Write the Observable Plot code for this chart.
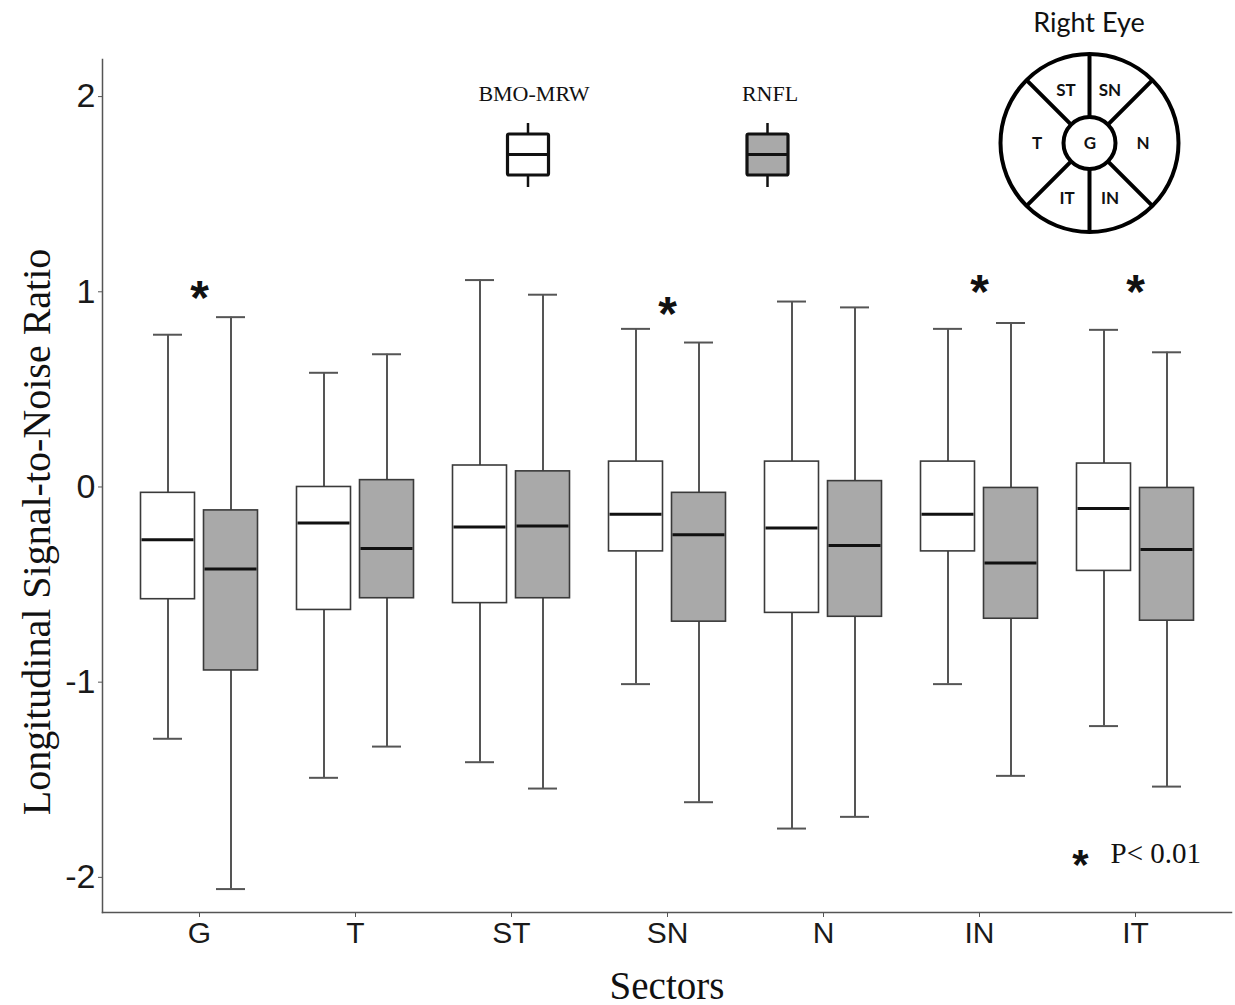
<!DOCTYPE html>
<html><head><meta charset="utf-8">
<script src="https://cdn.jsdelivr.net/npm/d3@7"></script>
<script src="https://cdn.jsdelivr.net/npm/@observablehq/plot@0.6"></script>
<style>
body{margin:0;background:#fff}
#wrap{position:relative;width:1235px;height:1005px}
#wrap svg.ov{position:absolute;left:0;top:0;pointer-events:none}
</style>
</head><body><div id="wrap"></div>
<script>
// ---------------- data ----------------
const sectors = ["G", "T", "ST", "SN", "N", "IN", "IT"];
const groups = ["BMO-MRW", "RNFL"];
const yTicks = [-2, -1, 0, 1, 2];

// BMO-MRW (white boxes)
const bmoUpper  = [0.78, 0.585, 1.06, 0.81, 0.95, 0.81, 0.805];
const bmoQ3     = [-0.03, 0.00, 0.11, 0.13, 0.13, 0.13, 0.12];
const bmoMedian = [-0.27, -0.185, -0.205, -0.14, -0.21, -0.14, -0.11];
const bmoQ1     = [-0.575, -0.63, -0.595, -0.33, -0.645, -0.33, -0.43];
const bmoLower  = [-1.29, -1.49, -1.41, -1.01, -1.75, -1.01, -1.225];

// RNFL (grey boxes)
const rnflUpper  = [0.87, 0.68, 0.985, 0.74, 0.92, 0.84, 0.69];
const rnflQ3     = [-0.12, 0.035, 0.08, -0.03, 0.03, -0.005, -0.005];
const rnflMedian = [-0.42, -0.315, -0.20, -0.245, -0.30, -0.39, -0.32];
const rnflQ1     = [-0.94, -0.57, -0.57, -0.69, -0.665, -0.675, -0.685];
const rnflLower  = [-2.06, -1.33, -1.545, -1.615, -1.69, -1.48, -1.535];

// significance markers (P < 0.01)
const sigSectors = ["G", "SN", "IN", "IT"];
const sigY       = [1.0, 0.92, 1.03, 1.03];

// ---------------- tables ----------------
const rows = [];
sectors.forEach((s, i) => {
  rows.push({sector: s, group: "BMO-MRW", hi: bmoUpper[i], q3: bmoQ3[i], med: bmoMedian[i], q1: bmoQ1[i], lo: bmoLower[i]});
  rows.push({sector: s, group: "RNFL", hi: rnflUpper[i], q3: rnflQ3[i], med: rnflMedian[i], q1: rnflQ1[i], lo: rnflLower[i]});
});
const stars = sigSectors.map((s, i) => ({sector: s, y: sigY[i]}));

// ---------------- styles ----------------
const fills = {"BMO-MRW": "#ffffff", "RNFL": "#a9a9a9"};
const geom = {
  "BMO-MRW": {boxL: 19.5, boxR: 82.5, capL: 32, capR: 95, dx: -31.5},
  "RNFL":    {boxL: 82.5, boxR: 19.5, capL: 95, capR: 32, dx: 31.5}
};
const whisk = "#555", boxStroke = "#3a3a3a";
const serif = "'Liberation Serif', 'Times New Roman', serif";

const groupMarks = groups.flatMap(g => {
  const d = rows.filter(r => r.group === g);
  const G = geom[g];
  return [
    Plot.ruleX(d, {x: "sector", y1: "lo", y2: "q1", dx: G.dx, stroke: whisk, strokeWidth: 2}),
    Plot.ruleX(d, {x: "sector", y1: "q3", y2: "hi", dx: G.dx, stroke: whisk, strokeWidth: 2}),
    Plot.tickY(d, {x: "sector", y: "lo", insetLeft: G.capL, insetRight: G.capR, stroke: whisk, strokeWidth: 2}),
    Plot.tickY(d, {x: "sector", y: "hi", insetLeft: G.capL, insetRight: G.capR, stroke: whisk, strokeWidth: 2}),
    Plot.barY(d, {x: "sector", y1: "q1", y2: "q3", fill: fills[g], stroke: boxStroke, strokeWidth: 1.6, insetLeft: G.boxL, insetRight: G.boxR}),
    Plot.tickY(d, {x: "sector", y: "med", insetLeft: G.boxL + 1, insetRight: G.boxR + 1, stroke: "#111", strokeWidth: 3})
  ];
});

const chart = Plot.plot({
  width: 1235,
  height: 1005,
  marginLeft: 102,
  marginRight: 4,
  marginTop: 59,
  marginBottom: 93,
  style: {fontFamily: "'Liberation Sans', Arial, sans-serif", background: "#fff", overflow: "visible"},
  x: {type: "band", domain: sectors, paddingInner: 0, paddingOuter: 0.1},
  y: {domain: [-2.18, 2.19]},
  marks: [
    Plot.frame({anchor: "left", stroke: "#555", strokeWidth: 1.5}),
    Plot.frame({anchor: "bottom", stroke: "#555", strokeWidth: 1.5}),
    Plot.axisY({ticks: yTicks, tickSize: 4, tickPadding: 3, fontSize: 34, label: null, stroke: "#555", fill: "#1a1a1a", tickFormat: d => d < 0 ? "-" + Math.abs(d) : String(d)}),
    Plot.axisX({tickSize: 5, tickPadding: 4, fontSize: 30, label: null, stroke: "#555", fill: "#1a1a1a"}),
    ...groupMarks,
    Plot.text(stars, {x: "sector", y: "y", text: () => "*", fontSize: 48, fontWeight: "bold", fill: "#111", dy: 7}),
    Plot.text(["Longitudinal Signal-to-Noise Ratio"], {frameAnchor: "left", textAnchor: "middle", rotate: -90, dx: -65, dy: 46, fontSize: 40, fontFamily: serif, fill: "#111"}),
    Plot.text(["Sectors"], {frameAnchor: "bottom", dy: 86, fontSize: 39, fontFamily: serif, fill: "#111"}),
    Plot.text(["*"], {frameAnchor: "bottom-right", dx: -143, dy: -34, fontSize: 42, fontWeight: "bold", fill: "#111"}),
    Plot.text(["P< 0.01"], {frameAnchor: "bottom-right", textAnchor: "start", dx: -121, dy: -50, fontSize: 29, fontFamily: serif, fill: "#111"})
  ]
});

const wrap = document.getElementById("wrap");
wrap.appendChild(chart);

// ---------------- overlay: legend + eye diagram ----------------
const ov = d3.select(wrap).append("svg").attr("class", "ov").attr("width", 1235).attr("height", 1005);

// legend
const legendItems = [
  {label: "BMO-MRW", fill: fills["BMO-MRW"], cx: 528, lx: 534},
  {label: "RNFL", fill: fills["RNFL"], cx: 767.5, lx: 770}
];
const lg = ov.append("g");
legendItems.forEach(it => {
  lg.append("text").attr("x", it.lx).attr("y", 101).attr("text-anchor", "middle")
    .attr("font-family", serif).attr("font-size", 22).attr("fill", "#111").text(it.label);
  lg.append("line").attr("x1", it.cx).attr("x2", it.cx).attr("y1", 123).attr("y2", 187).attr("stroke", "#111").attr("stroke-width", 2.5);
  lg.append("rect").attr("x", it.cx - 20.5).attr("y", 134).attr("width", 41).attr("height", 41)
    .attr("fill", it.fill).attr("stroke", "#111").attr("stroke-width", 3.2).attr("rx", 1.5);
  lg.append("line").attr("x1", it.cx - 20.5).attr("x2", it.cx + 20.5).attr("y1", 154.5).attr("y2", 154.5).attr("stroke", "#111").attr("stroke-width", 3.2);
});

// eye diagram
const cx = 1089.5, cy = 143, R = 89, r = 26;
const eye = ov.append("g").attr("fill", "none").attr("stroke", "#000").attr("stroke-width", 4);
eye.append("circle").attr("cx", cx).attr("cy", cy).attr("r", R);
eye.append("circle").attr("cx", cx).attr("cy", cy).attr("r", r);
[90, 270, 45, 135, 225, 315].forEach(a => {
  const t = a * Math.PI / 180;
  eye.append("line")
    .attr("x1", cx + r * Math.cos(t)).attr("y1", cy - r * Math.sin(t))
    .attr("x2", cx + R * Math.cos(t)).attr("y2", cy - R * Math.sin(t));
});
const eyeLabels = [
  {t: "ST", x: 1066, y: 90}, {t: "SN", x: 1110, y: 90},
  {t: "T", x: 1037, y: 143}, {t: "G", x: 1090, y: 143}, {t: "N", x: 1143, y: 143},
  {t: "IT", x: 1067, y: 198}, {t: "IN", x: 1110, y: 198}
];
ov.append("g").selectAll("text").data(eyeLabels).join("text")
  .attr("x", d => d.x).attr("y", d => d.y).attr("dy", "0.36em").attr("text-anchor", "middle")
  .attr("font-family", "Lato, 'Open Sans', sans-serif").attr("font-weight", "bold").attr("font-size", 17).attr("fill", "#111")
  .text(d => d.t);
ov.append("text").attr("x", 1089).attr("y", 32).attr("text-anchor", "middle")
  .attr("font-family", "Lato, 'Open Sans', sans-serif").attr("font-size", 27).attr("fill", "#111").text("Right Eye");
</script>
</body></html>
